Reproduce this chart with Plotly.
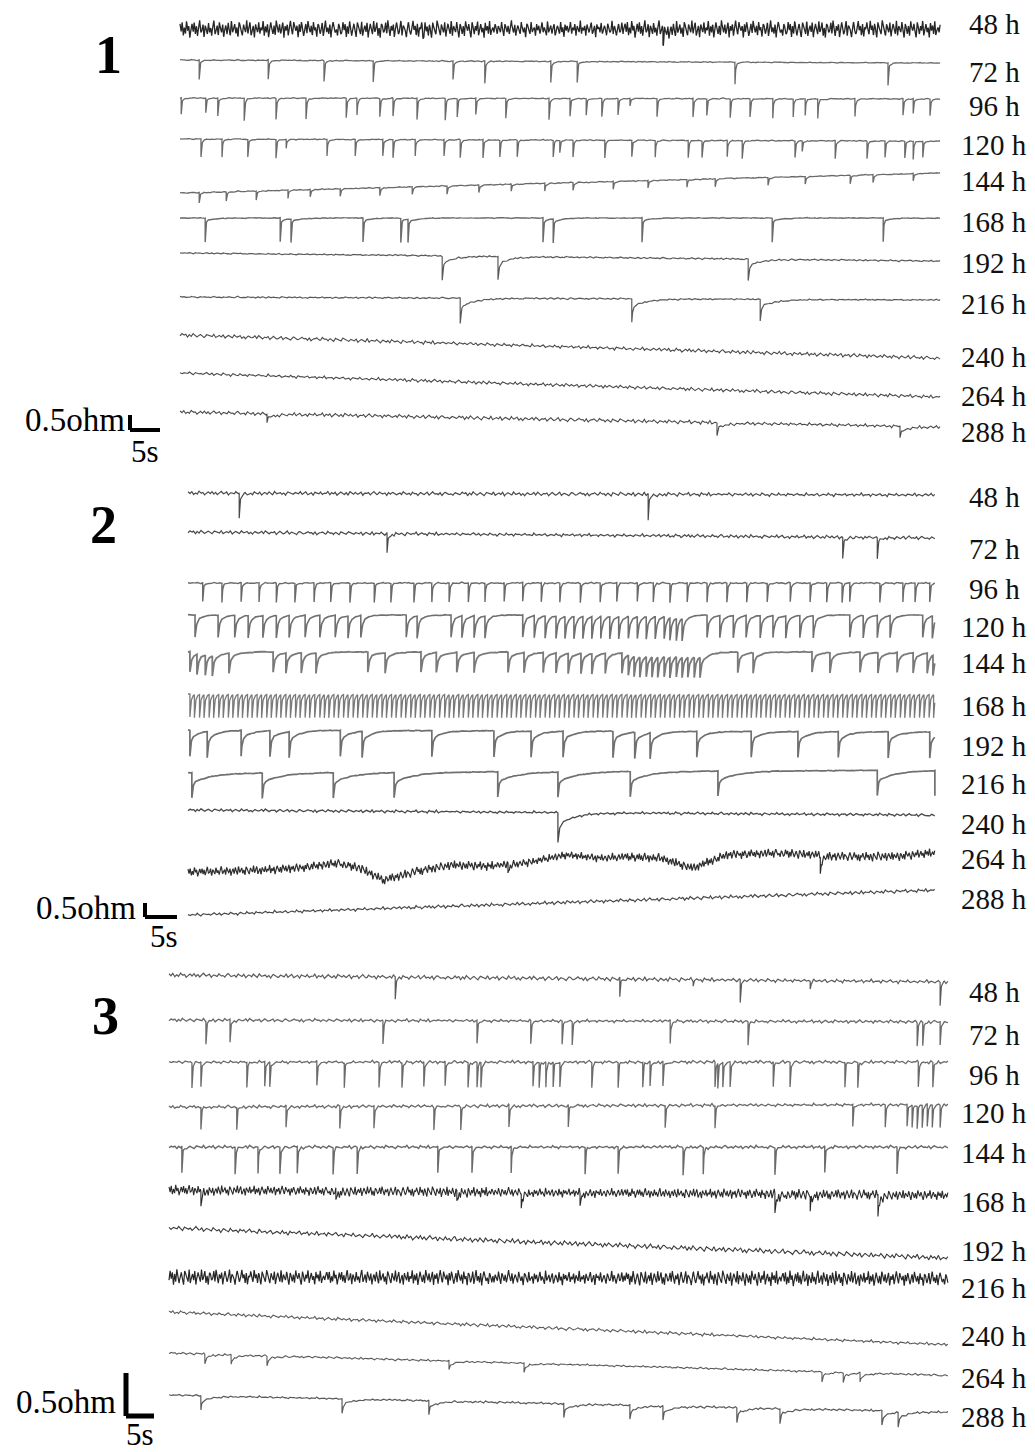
import numpy as np
import plotly.graph_objects as go

# ---------------- data ----------------
hour_labels = ["48 h", "72 h", "96 h", "120 h", "144 h", "168 h",
               "192 h", "216 h", "240 h", "264 h", "288 h"]
panel_names = ["1", "2", "3"]

# recording length shown in each panel (s)
p1_duration = 126.7
p2_duration = 116.7
p3_duration = 139.1

# baseline drift over the recording (ohm), one value per row
p1_drift = [0.0, -0.1, -0.03, -0.07, 0.67, 0.0, -0.27, -0.1, -0.77, -0.8, -0.5]
p2_drift = [-0.07, -0.21, 0.0, 0.0, 0.0, 0.0, -0.07, 0.1, -0.18, 0.0, 0.89]
p3_drift = [-0.08, -0.02, 0.0, 0.03, 0.0, -0.06, -0.35, -0.02, -0.38, -0.26, -0.2]

# noise level (ohm per fuzz unit), one value per row
p1_noise = [0.058, 0.005, 0.005, 0.005, 0.005, 0.004, 0.007, 0.007, 0.013, 0.012, 0.013]
p2_noise = [0.014, 0.013, 0.007, 0.004, 0.004, 0.0, 0.004, 0.004, 0.011, 0.034, 0.013]
p3_noise = [0.005, 0.004, 0.004, 0.004, 0.004, 0.012, 0.006, 0.018, 0.004, 0.003, 0.003]

# estimated trace fuzz (units)
fuzz_a = [3, -2, 4, -4, 1, -3, 5, -1, 2, -5, 0, 3, -2, 4, -3, 2, -4, 1, 5, -2, -1, 3, -5, 2, 0,
          -3, 4, -2, 1, -4, 3, 5, -3, -1, 2, -4, 4, 0, -2, 3, -5, 1, 2, -3, 4, -1, -4, 5, -2, 0,
          3, -3, 1, -5, 4, 2, -1, -4, 3, 0, -2, 5, -3, 1, 4, -4, -1, 2, -5, 3, 0, -2, 4, -3, 1,
          -1, 5, -4, 2, -2, 3, -5, 0, 4, -1, -3, 2, -4, 5, 1, -2, 3, -3, 0, 4, -5, 2, -1, 3, -4,
          1, 5, -2, -3, 4, 0, -1, 2, -5, 3, -2, 4, 1, -4, -1, 3, -3, 5, 0, -2, 2, -4, 4, -1, 1,
          -5, 3, 2, -3, -1, 4, -4, 0, 5, -2, 1, -3, 3, -5, 2, 4, -1, -2, 0, -4, 3, 1, -3]
fuzz_b = [-2, 4, -1, 3, -5, 2, -3, 5, 0, -4, 1, 3, -2, -5, 4, 2, -1, -3, 5, -4, 0, 2, -2, 4, -5,
          1, 3, -1, -3, 5, -2, 0, 4, -4, 1, -5, 3, 2, -2, -1, 4, -3, 5, 0, -4, 2, -1, 3, -5, 1,
          4, -2, -3, 0, 5, -4, 2, 1, -1, -5, 3, 4, -2, -3, 0, 5, -1, 2, -4, 3, -5, 1, 0, 4, -2,
          -3, 5, -1, 2, -4, 3, 0, -5, 4, 1, -2, -3, 5, 2, -1, -4, 3, 0, -2, 4, -5, 1, 3, -1, -3,
          5, -4, 2, 0, -2, 4, -1, -5, 3, 1, -3, 2, -4, 5, 0, -1, 3, -2, -5, 4, 1, -3, 2, -1, 5,
          -4, 0, 3, -2, 1, -5, 4, -1, 2, -3, 5, -4, 0, 1, -2, 3]
fuzz_c = [1, -3, 2, 0, -2, 4, -1, -4, 3, 1, -2, 2, -3, 0, 5, -1, -2, 3, -4, 1, 2, -1, -3, 4, 0,
          -2, 1, -5, 3, 2, -1, -3, 4, -2, 0, 1, -4, 3, -1, 2, -3, 0, 4, -2, 1, -1, -4, 5, -2, 0,
          2, -3, 1, 3, -4, -1, 2, 0, -3, 4, -2, 1, -5, 3, -1, 2, -2, 0, 4, -3, 1, -1, 3, -4, 2,
          0, -2, 5, -3, 1, -1, 2, -4, 3, 0, -2, 1, 4, -3, -1, 2, -5, 3, 0, 1, -2, 4, -3, -1, 2,
          0, -4, 3, 1, -2, -1, 5, -3, 2, 0, -4, 1, 3, -2, -1, 4, -3, 2]

# ---- panel 1 : spike times (s) and amplitudes (ohm) ----
p1_h48_t = [40.5, 80.5]
p1_h48_a = [0.2, 0.45]
p1_h72_t = [3.2, 14.7, 24.0, 32.2, 45.5, 50.8, 61.8, 66.2, 92.5, 118.0]
p1_h72_a = [0.65, 0.65, 0.68, 0.7, 0.62, 0.75, 0.72, 0.7, 0.73, 0.75]
p1_h96_t = [0.2, 4.3, 6.3, 10.7, 16.0, 21.0, 27.7, 29.5, 33.3, 35.5, 39.5, 44.2, 46.2, 49.3,
            54.3, 61.5, 65.0, 67.7, 70.3, 73.0, 75.0, 79.5, 85.5, 87.8, 91.7, 95.0, 98.8, 102.2,
            104.2, 106.3, 112.5, 120.5, 122.2, 125.0]
p1_h96_a = [0.55, 0.5, 0.6, 0.75, 0.7, 0.7, 0.65, 0.55, 0.6, 0.6, 0.72, 0.72, 0.6, 0.55, 0.65,
            0.72, 0.6, 0.55, 0.6, 0.55, 0.25, 0.6, 0.62, 0.55, 0.62, 0.6, 0.65, 0.6, 0.55, 0.65,
            0.6, 0.55, 0.5, 0.55]
p1_h120_t = [3.5, 7.0, 11.3, 16.0, 17.7, 24.5, 29.2, 33.8, 35.5, 39.2, 44.0, 46.7, 50.5, 53.3,
             56.2, 62.2, 63.3, 65.5, 70.8, 75.3, 79.2, 84.7, 87.0, 91.2, 93.7, 102.5, 103.7,
             109.2, 114.5, 117.5, 120.8, 122.2, 123.8]
p1_h120_a = [0.6, 0.6, 0.58, 0.62, 0.3, 0.55, 0.55, 0.55, 0.6, 0.55, 0.55, 0.6, 0.62, 0.55,
             0.55, 0.55, 0.4, 0.55, 0.6, 0.55, 0.55, 0.58, 0.55, 0.55, 0.6, 0.55, 0.35, 0.6,
             0.58, 0.55, 0.55, 0.6, 0.55]
p1_h144_t = [3.2, 7.7, 12.7, 18.0, 21.7, 26.7, 33.3, 38.7, 44.5, 49.8, 55.2, 60.8, 65.5, 72.2,
             78.0, 84.5, 89.2, 98.0, 104.2, 111.7, 115.5, 122.2]
p1_h144_a = [0.35, 0.3, 0.3, 0.28, 0.25, 0.25, 0.27, 0.25, 0.27, 0.25, 0.25, 0.27, 0.25, 0.27,
             0.25, 0.25, 0.27, 0.25, 0.25, 0.27, 0.27, 0.25]
p1_h168_t = [4.2, 16.7, 18.5, 30.5, 36.8, 38.0, 60.5, 62.2, 77.0, 98.7, 117.2]
p1_h168_a = [0.8, 0.8, 0.78, 0.8, 0.8, 0.78, 0.82, 0.8, 0.82, 0.8, 0.8]
p1_h192_t = [43.7, 53.0, 94.7]
p1_h192_a = [0.78, 0.78, 0.72]
p1_h216_t = [46.7, 75.3, 96.7]
p1_h216_a = [0.85, 0.78, 0.72]
p1_h240_t = []
p1_h240_a = []
p1_h264_t = []
p1_h264_a = []
p1_h288_t = [14.5, 89.5, 120.0]
p1_h288_a = [0.3, 0.42, 0.4]

# ---- panel 2 ----
p2_h48_t = [8.0, 71.9]
p2_h48_a = [0.9, 0.95]
p2_h72_t = [31.1, 102.3, 107.7]
p2_h72_a = [0.72, 0.75, 0.75]
p2_h96_t = [2.3, 5.3, 8.3, 11.1, 13.8, 16.7, 19.7, 22.3, 25.3, 29.1, 31.7, 35.3, 38.1, 40.8,
            43.8, 46.4, 49.4, 52.3, 55.2, 58.1, 61.3, 64.4, 67.0, 70.2, 72.7, 75.3, 78.0, 81.1,
            84.2, 87.3, 90.5, 94.1, 97.2, 99.8, 102.2, 103.4, 108.1, 111.7, 113.6, 115.9]
p2_h96_a = 0.68
p2_h120_t = [1.1, 4.7, 7.3, 9.4, 11.7, 13.8, 15.8, 18.3, 20.6, 23.0, 25.0, 27.0, 34.1, 35.8,
             41.1, 42.8, 44.7, 46.4, 52.3, 54.1, 55.8, 57.5, 58.9, 60.3, 61.7, 63.1, 64.5, 65.9,
             67.3, 68.8, 70.2, 71.6, 73.0, 74.4, 75.3, 76.3, 77.2, 81.1, 83.1, 85.2, 87.2, 89.4,
             91.4, 93.4, 95.6, 97.7, 103.4, 105.5, 107.7, 109.7, 114.8, 116.3]
p2_h120_a = 0.79
p2_h144_t = [0.3, 1.4, 2.7, 3.8, 6.4, 13.3, 15.3, 17.7, 20.0, 28.1, 30.8, 36.4, 38.8, 42.0,
             44.7, 50.0, 52.5, 55.5, 57.5, 59.4, 61.4, 63.1, 65.2, 67.8, 68.8, 69.7, 70.6, 71.6,
             72.5, 73.4, 74.4, 75.3, 76.3, 77.2, 78.1, 79.1, 80.0, 85.9, 88.3, 97.5, 100.3,
             105.0, 107.8, 110.8, 113.3, 115.5, 116.4]
p2_h144_a = 0.72
p2_h168_t = [0.3, 1.0, 1.8, 2.5, 3.3, 4.0, 4.8, 5.5, 6.3, 7.0, 7.8, 8.5, 9.3, 10.0, 10.8, 11.5,
             12.3, 13.0, 13.8, 14.5, 15.3, 16.0, 16.8, 17.5, 18.3, 19.0, 19.8, 20.6, 21.3, 22.0,
             22.8, 23.5, 24.3, 25.0, 25.8, 26.5, 27.3, 28.0, 28.8, 29.5, 30.3, 31.0, 31.8, 32.5,
             33.3, 34.0, 34.8, 35.5, 36.3, 37.0, 37.8, 38.5, 39.3, 40.1, 40.8, 41.5, 42.3, 43.0,
             43.8, 44.5, 45.3, 46.0, 46.8, 47.5, 48.3, 49.0, 49.8, 50.5, 51.3, 52.0, 52.8, 53.5,
             54.3, 55.0, 55.8, 56.5, 57.3, 58.0, 58.8, 59.5, 60.3, 61.0, 61.8, 62.5, 63.3, 64.0,
             64.8, 65.5, 66.3, 67.0, 67.8, 68.6, 69.3, 70.0, 70.8, 71.5, 72.3, 73.0, 73.8, 74.5,
             75.3, 76.0, 76.8, 77.5, 78.3, 79.0, 79.8, 80.5, 81.3, 82.0, 82.8, 83.5, 84.3, 85.0,
             85.8, 86.5, 87.3, 88.0, 88.8, 89.5, 90.3, 91.0, 91.8, 92.5, 93.3, 94.0, 94.8, 95.5,
             96.3, 97.0, 97.8, 98.5, 99.3, 100.0, 100.8, 101.5, 102.3, 103.0, 103.8, 104.5,
             105.3, 106.0, 106.8, 107.5, 108.3, 109.0, 109.8, 110.5, 111.3, 112.0, 112.8, 113.5,
             114.3, 115.0, 115.8, 116.5]
p2_h168_a = 0.82
p2_h192_t = [0.3, 3.0, 8.3, 12.8, 15.8, 23.8, 27.2, 38.1, 47.8, 53.6, 58.6, 66.4, 69.8, 72.2,
             79.5, 88.0, 95.3, 101.6, 109.4, 115.9]
p2_h192_a = 0.93
p2_h216_t = [0.6, 11.6, 22.7, 32.2, 48.4, 57.8, 69.1, 82.8, 107.7, 116.7]
p2_h216_a = 0.9
p2_h240_t = [57.8]
p2_h240_a = [1.05]
p2_h264_t = [50.0, 98.8]
p2_h264_a = [0.36, 0.6]
p2_h288_t = []
p2_h288_a = []
# slow wander of the 264 h trace: times (s) and levels (ohm)
p2_h264_wander_t = [0.3, 11.7, 17.5, 23.4, 26.9, 30.5, 33.1, 35.3, 41.1, 47.2, 53.4, 58.8,
                    64.4, 68.3, 73.8, 78.8, 84.2, 92.0, 105.0, 111.3, 116.0]
p2_h264_wander_v = [0.0, 0.07, 0.14, 0.32, 0.14, -0.29, -0.14, 0.0, 0.25, 0.21, 0.36, 0.61,
                    0.5, 0.54, 0.5, 0.14, 0.61, 0.68, 0.54, 0.57, 0.68]

# ---- panel 3 ----
p3_h48_t = [40.4, 80.5, 93.6, 102.0, 114.5, 137.7]
p3_h48_a = [0.26, 0.23, 0.06, 0.27, 0.09, 0.27]
p3_h72_t = [6.6, 10.9, 38.2, 55.0, 64.6, 70.2, 72.0, 89.5, 103.4, 133.6, 134.6, 137.7]
p3_h72_a = 0.27
p3_h96_t = [4.1, 5.7, 13.9, 17.1, 18.0, 26.4, 31.3, 37.5, 41.6, 45.5, 49.3, 53.4, 55.0, 55.7,
            65.0, 66.1, 67.3, 68.6, 69.8, 75.5, 80.2, 84.6, 85.9, 88.2, 97.5, 98.0, 98.9, 100.2,
            107.9, 110.9, 120.7, 123.0, 133.8, 136.4]
p3_h96_a = 0.29
p3_h120_t = [5.7, 12.1, 20.9, 30.5, 36.6, 47.3, 52.1, 60.7, 71.3, 88.6, 97.5, 122.1, 127.9,
             131.8, 132.7, 133.6, 134.5, 135.4, 136.3, 137.7]
p3_h120_a = 0.26
p3_h144_t = [2.3, 11.8, 15.9, 19.8, 22.9, 29.3, 33.6, 48.0, 54.1, 61.1, 74.3, 80.2, 91.8, 95.4,
             108.2, 117.1, 130.0]
p3_h144_a = 0.31
p3_h168_t = [5.7, 29.8, 51.4, 62.9, 73.4, 108.2, 114.5, 126.6]
p3_h168_a = [0.17, 0.14, 0.12, 0.17, 0.14, 0.23, 0.17, 0.26]
p3_h192_t = []
p3_h192_a = []
p3_h216_t = []
p3_h216_a = []
p3_h240_t = []
p3_h240_a = []
p3_h264_t = [6.4, 11.1, 17.5, 50.0, 63.4, 116.6, 120.4, 123.4]
p3_h264_a = 0.11
p3_h288_t = [5.7, 30.9, 46.4, 70.5, 82.3, 88.2, 101.4, 109.1, 127.3, 130.2]
p3_h288_a = 0.17

scale_bar_ohm = 0.5
scale_bar_s = 5

# ---------------- layout / styling ----------------
W, H = 1035, 1452
SERIF = "Liberation Serif, Times New Roman, serif"

# spike shape per row: (fast tau s, slow fraction, slow tau s)
SHARP = (0.1, 0.15, 0.5)
panels = [
    dict(top=0, bottom=470, x0=180, pps=6.0, ppo=30.0, T=p1_duration,
         rows_px=[29, 60, 98, 139, 193, 218, 253, 297, 335, 373, 412],
         label_y=[24, 72, 106, 145, 181, 222, 263, 304, 357, 396, 432],
         spikes=[(p1_h48_t, p1_h48_a), (p1_h72_t, p1_h72_a), (p1_h96_t, p1_h96_a),
                 (p1_h120_t, p1_h120_a), (p1_h144_t, p1_h144_a), (p1_h168_t, p1_h168_a),
                 (p1_h192_t, p1_h192_a), (p1_h216_t, p1_h216_a), (p1_h240_t, p1_h240_a),
                 (p1_h264_t, p1_h264_a), (p1_h288_t, p1_h288_a)],
         drift=p1_drift, noise=p1_noise,
         shapes=[(0.15, 0.3, 1.0), SHARP, SHARP, SHARP, (0.1, 0.2, 0.6), (0.1, 0.12, 1.5),
                 (0.15, 0.35, 2.0), (0.15, 0.35, 2.5), SHARP, SHARP, (0.15, 0.4, 2.0)],
         fuzz=["abcab", "abc", "bca", "cab", "abc", "bca", "cab", "abc", "bca", "cab", "abc"],
         colors=["#262626", "#6a6a6a", "#6a6a6a", "#6a6a6a", "#6a6a6a", "#6a6a6a",
                 "#5a5a5a", "#5a5a5a", "#4a4a4a", "#4a4a4a", "#4a4a4a"],
         widths=[1.3, 1.3, 1.3, 1.3, 1.3, 1.4, 1.2, 1.2, 1.1, 1.1, 1.1],
         name_xy=(108, 55), name_size=54,
         bar_corner=(130, 430), bar_w=4,
         ohm_xy=(127, 420), s_xy=(145, 452)),
    dict(top=470, bottom=940, x0=188, pps=6.4, ppo=28.0, T=p2_duration,
         rows_px=[493, 532, 583, 615, 652, 694, 730, 773, 810, 872, 915],
         label_y=[497, 549, 589, 627, 663, 706, 746, 784, 824, 859, 899],
         spikes=[(p2_h48_t, p2_h48_a), (p2_h72_t, p2_h72_a), (p2_h96_t, p2_h96_a),
                 (p2_h120_t, p2_h120_a), (p2_h144_t, p2_h144_a), (p2_h168_t, p2_h168_a),
                 (p2_h192_t, p2_h192_a), (p2_h216_t, p2_h216_a), (p2_h240_t, p2_h240_a),
                 (p2_h264_t, p2_h264_a), (p2_h288_t, p2_h288_a)],
         drift=p2_drift, noise=p2_noise,
         shapes=[(0.1, 0.15, 0.8), (0.1, 0.2, 0.8), (0.1, 0.15, 0.4), (0.2, 0.35, 0.8),
                 (0.2, 0.3, 1.2), (0.15, 0.2, 0.35), (0.15, 0.35, 1.5), (0.15, 0.4, 3.0),
                 (0.2, 0.45, 2.5), (0.15, 0.3, 1.0), SHARP],
         fuzz=["abc", "bca", "cab", "abc", "bca", "c", "cab", "abc", "bca", "abcab", "cab"],
         colors=["#4a4a4a", "#4a4a4a", "#6a6a6a", "#707070", "#7a7a7a", "#7a7a7a",
                 "#707070", "#707070", "#4a4a4a", "#2e2e2e", "#4a4a4a"],
         widths=[1.2, 1.2, 1.4, 1.6, 1.8, 1.3, 1.7, 1.7, 1.3, 1.2, 1.2],
         name_xy=(103, 525), name_size=54,
         bar_corner=(145, 917), bar_w=4,
         ohm_xy=(138, 908), s_xy=(164, 936)),
    dict(top=940, bottom=1452, x0=169, pps=5.6, ppo=86.0, T=p3_duration,
         rows_px=[975, 1020, 1062, 1107, 1147, 1190, 1228, 1277, 1312, 1353, 1395],
         label_y=[992, 1035, 1075, 1113, 1153, 1202, 1251, 1288, 1336, 1378, 1417],
         spikes=[(p3_h48_t, p3_h48_a), (p3_h72_t, p3_h72_a), (p3_h96_t, p3_h96_a),
                 (p3_h120_t, p3_h120_a), (p3_h144_t, p3_h144_a), (p3_h168_t, p3_h168_a),
                 (p3_h192_t, p3_h192_a), (p3_h216_t, p3_h216_a), (p3_h240_t, p3_h240_a),
                 (p3_h264_t, p3_h264_a), (p3_h288_t, p3_h288_a)],
         drift=p3_drift, noise=p3_noise,
         shapes=[SHARP, SHARP, SHARP, SHARP, SHARP, (0.15, 0.3, 1.0), SHARP, SHARP, SHARP,
                 (0.15, 0.4, 1.5), (0.15, 0.4, 2.0)],
         fuzz=["abc", "bca", "cab", "abc", "bca", "abcab", "cab", "bacba", "abc", "bca", "cab"],
         colors=["#5a5a5a", "#6a6a6a", "#6a6a6a", "#6a6a6a", "#6a6a6a", "#2a2a2a",
                 "#3a3a3a", "#262626", "#5a5a5a", "#5a5a5a", "#5a5a5a"],
         widths=[1.2, 1.3, 1.3, 1.3, 1.4, 1.1, 1.1, 1.2, 1.1, 1.1, 1.2],
         name_xy=(105, 1016), name_size=54,
         bar_corner=(126, 1416), bar_w=5,
         ohm_xy=(118, 1402), s_xy=(140, 1434)),
]

FUZZ = {"a": fuzz_a, "b": fuzz_b, "c": fuzz_c}


def fuzz_values(key):
    vals = []
    for ch in key:
        vals += FUZZ[ch]
    return np.array(vals, dtype=float)


def build_trace(T, times, amps, drift, shape, fuzz_key, noise, wander=None):
    grid = np.arange(0.0, T + 1e-9, 0.04)
    times = list(times)
    if np.isscalar(amps):
        amps = [amps] * len(times)
    extra = [t for t in times if 0 <= t <= T] + [t - 0.002 for t in times if 0 < t <= T]
    t = np.union1d(grid, np.array(extra, dtype=float))
    y = drift * t / T
    if wander is not None:
        y = y + np.interp(t, wander[0], wander[1])
    tf, frac, tsl = shape
    for ts, a in zip(times, amps):
        dt = t - ts
        m = dt >= 0
        y[m] -= a * ((1 - frac) * np.exp(-dt[m] / tf) + frac * np.exp(-dt[m] / tsl))
    if noise > 0:
        fv = fuzz_values(fuzz_key)
        ft = np.linspace(0, T, len(fv))
        y = y + noise * np.interp(t, ft, fv)
    return t, y


fig = go.Figure()
shapes = []
annotations = []
layout_axes = {}

for k, P in enumerate(panels):
    sfx = "" if k == 0 else str(k + 1)
    xref = "x" + sfx
    yref = "y" + sfx
    a, b = P["top"], P["bottom"]
    x_range = [(0 - P["x0"]) / P["pps"], (W - P["x0"]) / P["pps"]]
    y_range = [-(b - a) / P["ppo"], 0.0]
    layout_axes["xaxis" + sfx] = dict(domain=[0, 1], range=x_range, visible=False,
                                      anchor=yref, fixedrange=True)
    layout_axes["yaxis" + sfx] = dict(domain=[1 - b / H, 1 - a / H], range=y_range,
                                      visible=False, anchor=xref, fixedrange=True)

    for i in range(11):
        times, amps = P["spikes"][i]
        wander = None
        if k == 1 and i == 9:
            wander = (p2_h264_wander_t, p2_h264_wander_v)
        t, y = build_trace(P["T"], times, amps, P["drift"][i], P["shapes"][i],
                           P["fuzz"][i], P["noise"][i], wander)
        offset = -(P["rows_px"][i] - a) / P["ppo"]
        fig.add_trace(go.Scatter(x=t, y=y + offset, mode="lines",
                                 line=dict(color=P["colors"][i], width=P["widths"][i]),
                                 hoverinfo="skip", showlegend=False,
                                 xaxis=xref, yaxis=yref))
        annotations.append(dict(x=994 / W, y=1 - P["label_y"][i] / H, xref="paper",
                                yref="paper", text=hour_labels[i], showarrow=False,
                                xanchor="center", yanchor="middle",
                                font=dict(family=SERIF, size=29, color="#111")))

    # panel number
    nx, ny = P["name_xy"]
    annotations.append(dict(x=nx / W, y=1 - ny / H, xref="paper", yref="paper",
                            text="<b>" + panel_names[k] + "</b>", showarrow=False,
                            xanchor="center", yanchor="middle",
                            font=dict(family=SERIF, size=P["name_size"], color="#000")))

    # scale bar (0.5 ohm x 5 s) in data units
    cx = (P["bar_corner"][0] - P["x0"]) / P["pps"]
    cy = -(P["bar_corner"][1] - a) / P["ppo"]
    shapes.append(dict(type="line", xref=xref, yref=yref, x0=cx, x1=cx,
                       y0=cy, y1=cy + scale_bar_ohm, line=dict(color="#000", width=P["bar_w"])))
    shapes.append(dict(type="line", xref=xref, yref=yref, x0=cx, x1=cx + scale_bar_s,
                       y0=cy, y1=cy, line=dict(color="#000", width=P["bar_w"])))
    ox, oy = P["ohm_xy"]
    annotations.append(dict(x=ox / W, y=1 - oy / H, xref="paper", yref="paper",
                            text=f"{scale_bar_ohm}ohm", showarrow=False,
                            xanchor="right", yanchor="middle",
                            font=dict(family=SERIF, size=33, color="#000")))
    sx, sy = P["s_xy"]
    annotations.append(dict(x=sx / W, y=1 - sy / H, xref="paper", yref="paper",
                            text=f"{scale_bar_s}s", showarrow=False,
                            xanchor="center", yanchor="middle",
                            font=dict(family=SERIF, size=31, color="#000")))

fig.update_layout(width=W, height=H, autosize=False,
                  margin=dict(l=0, r=0, t=0, b=0),
                  paper_bgcolor="white", plot_bgcolor="white",
                  shapes=shapes, annotations=annotations, **layout_axes)

fig.write_html("out.html", config={"displayModeBar": False, "staticPlot": True},
               post_script="document.body.style.margin='0';document.body.style.overflow='hidden';")
